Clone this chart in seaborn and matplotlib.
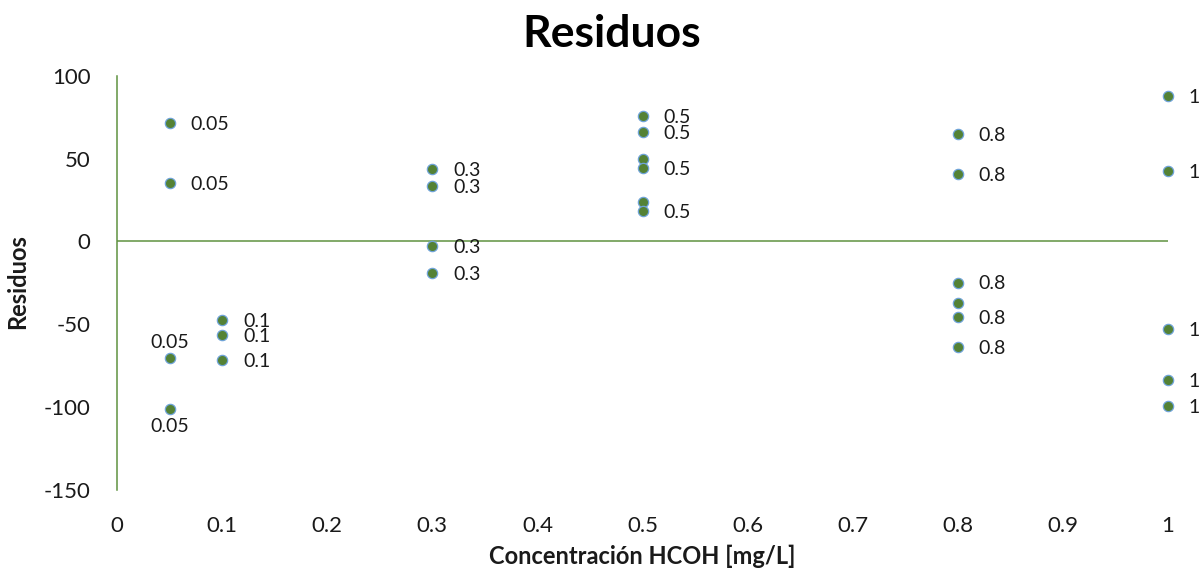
import matplotlib
matplotlib.use("Agg")
import matplotlib.pyplot as plt
import numpy as np
import pandas as pd
import seaborn as sns

# Residuals of the calibration, grouped by concentration level
conc_005 = [71.7, 35.4, -70.4, -101.2]
conc_01 = [-47.3, -56.4, -71.5]
conc_03 = [43.6, 33.3, -2.8, -19.0]
conc_05 = [75.9, 66.2, 49.7, 44.4, 23.8, 18.4]
conc_08 = [64.7, 40.6, -24.8, -37.4, -45.9, -63.6]
conc_1 = [87.9, 42.6, -52.7, -83.5, -99.6]

levels = [0.05, 0.1, 0.3, 0.5, 0.8, 1]
level_labels = ["0.05", "0.1", "0.3", "0.5", "0.8", "1"]
x_ticks = [0, 0.1, 0.2, 0.3, 0.4, 0.5, 0.6, 0.7, 0.8, 0.9, 1]
x_tick_labels = ["0", "0.1", "0.2", "0.3", "0.4", "0.5", "0.6", "0.7", "0.8", "0.9", "1"]
y_ticks = [-150, -100, -50, 0, 50, 100]

groups = [conc_005, conc_01, conc_03, conc_05, conc_08, conc_1]

rows = []
for lvl, lab, vals in zip(levels, level_labels, groups):
    for v in vals:
        rows.append({"x": lvl, "y": v, "label": lab})
df = pd.DataFrame(rows)

# where each point's data label sits (None = hidden by overlap)
label_side = (
    ["right", "right", "above", "below"]
    + ["right"] * 3
    + ["right"] * 4
    + ["right", "right", None, "right", None, "right"]
    + ["right", "right", "right", None, "right", "right"]
    + ["right"] * 5
)

sns.set_theme(style="white")
plt.rcParams["font.family"] = ["Lato", "DejaVu Sans"]

GREEN = "#548235"
LINE = "#5f9240"
EDGE = "#6fa3d8"

fig = plt.figure(figsize=(12.04, 5.78), dpi=100)
ax = fig.add_axes([0.0972, 0.1528, 0.8729, 0.7157])

sns.scatterplot(data=df, x="x", y="y", ax=ax, s=55, color=GREEN,
                edgecolor=EDGE, linewidth=0.9, clip_on=False, zorder=3,
                legend=False)

offsets = {"right": (15, -1, "left", "center"),
           "above": (0, 11, "center", "center"),
           "below": (0, -13, "center", "center")}
for (_, r), side in zip(df.iterrows(), label_side):
    if side is None:
        continue
    dx, dy, ha, va = offsets[side]
    ax.annotate(r["label"], (r["x"], r["y"]), xytext=(dx, dy),
                textcoords="offset points", ha=ha, va=va, fontsize=14,
                color="#1a1a1a", annotation_clip=False)

ax.set_xlim(0, 1)
ax.set_ylim(-150, 100)
ax.set_xticks(x_ticks)
ax.set_xticklabels(x_tick_labels)
ax.set_yticks(y_ticks)
ax.set_yticklabels([str(t) for t in y_ticks])
ax.tick_params(axis="both", length=0, labelsize=16, colors="#1a1a1a")
ax.tick_params(axis="y", pad=19)
ax.tick_params(axis="x", pad=19)

for s in ["top", "right", "bottom"]:
    ax.spines[s].set_visible(False)
ax.spines["left"].set_color(LINE)
ax.spines["left"].set_linewidth(1.1)
ax.axhline(0, color=LINE, linewidth=1.1, zorder=1)

ax.set_xlabel("Concentración HCOH [mg/L]", fontsize=17, fontweight="bold",
              color="#1a1a1a")
ax.xaxis.set_label_coords(0.5, -0.133)
ax.set_ylabel("Residuos", fontsize=17, fontweight="bold", color="#1a1a1a")
ax.yaxis.set_label_coords(-0.084, 0.502)
fig.suptitle("Residuos", x=0.508, y=0.975, fontsize=32, fontweight="bold",
             color="#000000")

fig.savefig("out.png", dpi=100)
